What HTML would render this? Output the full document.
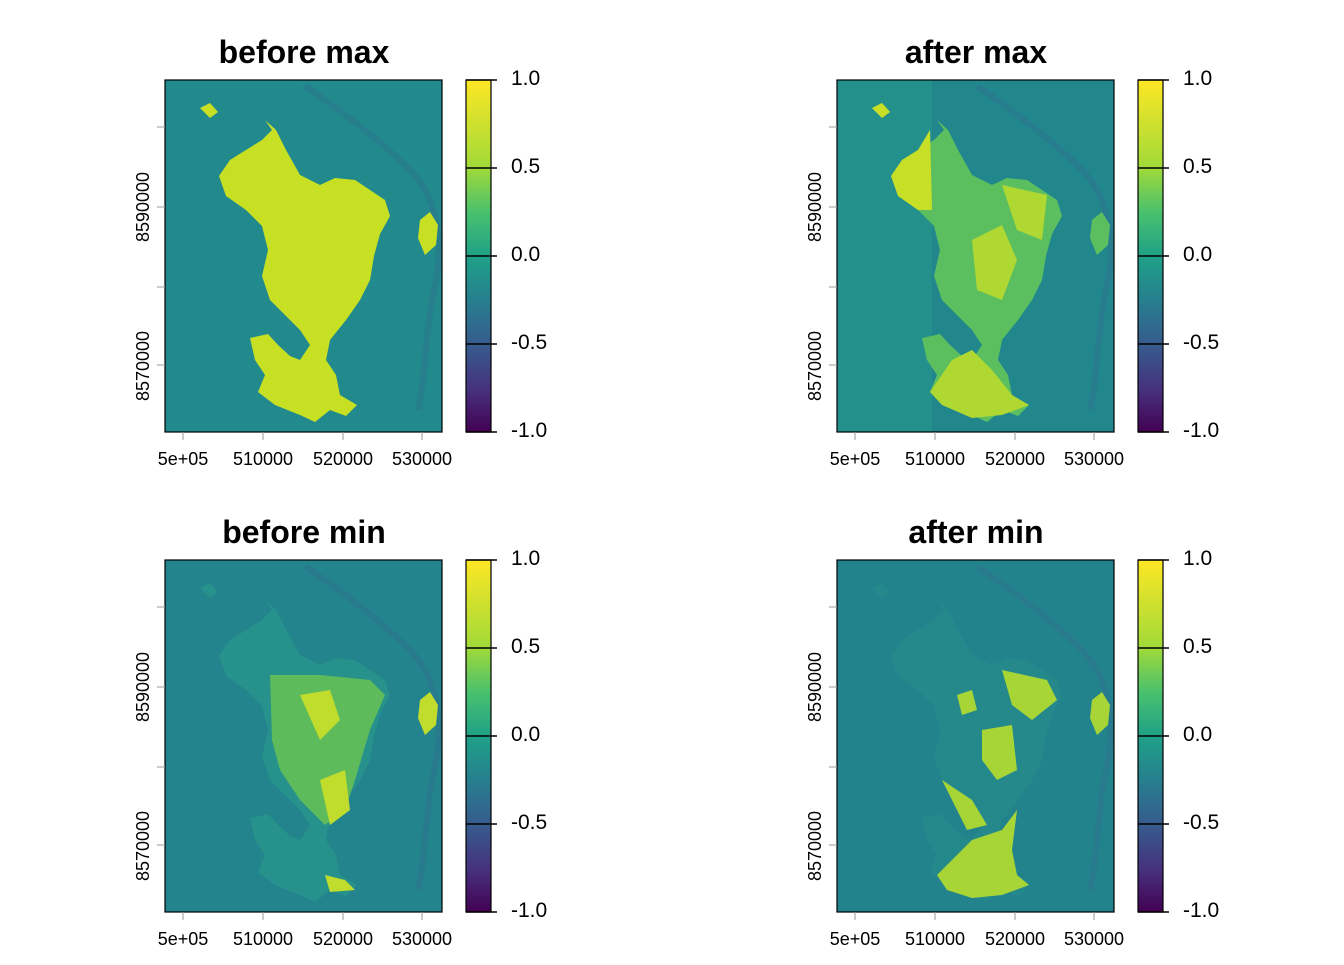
<!DOCTYPE html>
<html><head><meta charset="utf-8"><style>
body{margin:0;background:#fff}
svg text{font-family:"Liberation Sans",Arial,sans-serif;fill:#000}
</style></head><body>
<svg width="1344" height="960" viewBox="0 0 1344 960" xmlns="http://www.w3.org/2000/svg">
<defs>
<linearGradient id="vir" x1="0" y1="1" x2="0" y2="0">
<stop offset="0" stop-color="#440154"/><stop offset="0.125" stop-color="#46337e"/>
<stop offset="0.25" stop-color="#365c8d"/><stop offset="0.375" stop-color="#277f8e"/>
<stop offset="0.5" stop-color="#1fa187"/><stop offset="0.625" stop-color="#4ac16d"/>
<stop offset="0.75" stop-color="#a0da39"/><stop offset="1" stop-color="#fde725"/>
</linearGradient>
<path id="isl" d="M265,120 L272,130 L262,140 L246,150 L230,160 L219,176 L226,196 L246,210 L262,226 L268,250 L262,276 L270,300 L285,315 L300,330 L310,345 L300,360 L290,356 L278,345 L268,334 L250,338 L255,360 L265,375 L258,392 L275,405 L300,415 L315,422 L330,410 L346,416 L357,405 L340,395 L336,375 L326,360 L330,340 L346,320 L360,300 L370,280 L374,256 L380,234 L390,216 L385,200 L370,190 L355,180 L335,178 L320,185 L300,175 L286,150 L276,130 Z M200,108 L210,103 L218,112 L210,118 Z M420,220 L430,212 L438,225 L436,245 L425,255 L418,238 Z"/>
<g id="ax">
<rect x="165" y="80" width="277" height="352" fill="none" stroke="#000" stroke-width="1.2"/>
<g stroke="#999" stroke-width="1">
<line x1="183" y1="432" x2="183" y2="440"/><line x1="263" y1="432" x2="263" y2="440"/><line x1="343" y1="432" x2="343" y2="440"/><line x1="422" y1="432" x2="422" y2="440"/>
<line x1="157" y1="127" x2="165" y2="127"/><line x1="157" y1="207" x2="165" y2="207"/><line x1="157" y1="287" x2="165" y2="287"/><line x1="157" y1="365" x2="165" y2="365"/>
</g>
<g font-size="18" text-anchor="middle">
<text x="183" y="465">5e+05</text><text x="263" y="465">510000</text><text x="343" y="465">520000</text><text x="422" y="465">530000</text>
<text transform="translate(149,207) rotate(-90)">8590000</text><text transform="translate(149,366) rotate(-90)">8570000</text>
</g>
<rect x="466" y="80" width="25" height="352" fill="url(#vir)" stroke="#000" stroke-width="1.2"/>
<g stroke="#000" stroke-width="1.5">
<line x1="466" y1="80" x2="497" y2="80"/><line x1="466" y1="168" x2="497" y2="168"/><line x1="466" y1="256" x2="497" y2="256"/><line x1="466" y1="344" x2="497" y2="344"/><line x1="466" y1="432" x2="497" y2="432"/>
</g>
<g font-size="21"><text x="511" y="85">1.0</text><text x="511" y="173">0.5</text><text x="511" y="261">0.0</text><text x="511" y="349">-0.5</text><text x="511" y="437">-1.0</text></g>
</g>
<path id="reef" d="M305,86 C340,110 380,140 410,170 C440,200 445,250 432,300 C425,340 425,380 418,410" fill="none" stroke="#2f6e8e" stroke-width="6" opacity="0.4"/>
</defs>

<g>
<rect x="165" y="80" width="277" height="352" fill="#22898d"/>
<use href="#reef"/>
<use href="#isl" fill="#c8e023"/>
<use href="#ax"/>
<text x="304" y="63" font-size="32" font-weight="bold" text-anchor="middle">before max</text>
</g>
<g transform="translate(672,0)">
<rect x="165" y="80" width="277" height="352" fill="#22878d"/>
<rect x="165" y="80" width="95" height="352" fill="#24908c"/>
<use href="#reef" stroke-width="8"/>
<use href="#isl" fill="#5cbf5f"/>
<path d="M200,108 L210,103 L218,112 L210,118 Z M219,176 L226,196 L246,210 L260,210 L258,130 L246,150 L230,160 Z" fill="#c8df28"/>
<path d="M280,360 L300,350 L320,370 L340,395 L357,405 L330,415 L300,418 L270,405 L258,392 Z M300,240 L330,225 L345,260 L330,300 L305,290 Z M330,185 L375,195 L370,240 L345,230 Z" fill="#b0d832"/>
<use href="#ax"/>
<text x="304" y="63" font-size="32" font-weight="bold" text-anchor="middle">after max</text>
</g>
<g transform="translate(0,480)">
<rect x="165" y="80" width="277" height="352" fill="#23848d"/>
<use href="#reef"/>
<use href="#isl" fill="#27918b"/>
<path d="M270,195 L320,195 L370,200 L385,215 L370,250 L355,300 L345,330 L325,345 L300,320 L280,290 L272,260 Z" fill="#6cc650" opacity="0.8"/>
<path d="M300,215 L330,210 L340,240 L320,260 Z M320,300 L345,290 L350,330 L330,345 Z M325,395 L345,400 L355,410 L330,412 Z M420,220 L430,212 L438,225 L436,245 L425,255 L418,238 Z" fill="#c0dc2c"/>
<use href="#ax"/>
<text x="304" y="63" font-size="32" font-weight="bold" text-anchor="middle">before min</text>
</g>
<g transform="translate(672,480)">
<rect x="165" y="80" width="277" height="352" fill="#23838d"/>
<use href="#reef" stroke-width="9"/>
<use href="#isl" fill="#25898c"/>
<path d="M330,190 L375,200 L385,220 L360,240 L340,225 Z M285,215 L300,210 L305,230 L290,235 Z M310,250 L340,245 L345,290 L325,300 L310,280 Z M270,300 L300,320 L315,345 L295,350 Z M300,360 L330,350 L345,330 L340,370 L345,395 L357,405 L330,415 L300,418 L275,410 L265,395 Z M420,220 L430,212 L438,225 L436,245 L425,255 L418,238 Z" fill="#a8d536"/>
<use href="#ax"/>
<text x="304" y="63" font-size="32" font-weight="bold" text-anchor="middle">after min</text>
</g>
</svg>
</body></html>
